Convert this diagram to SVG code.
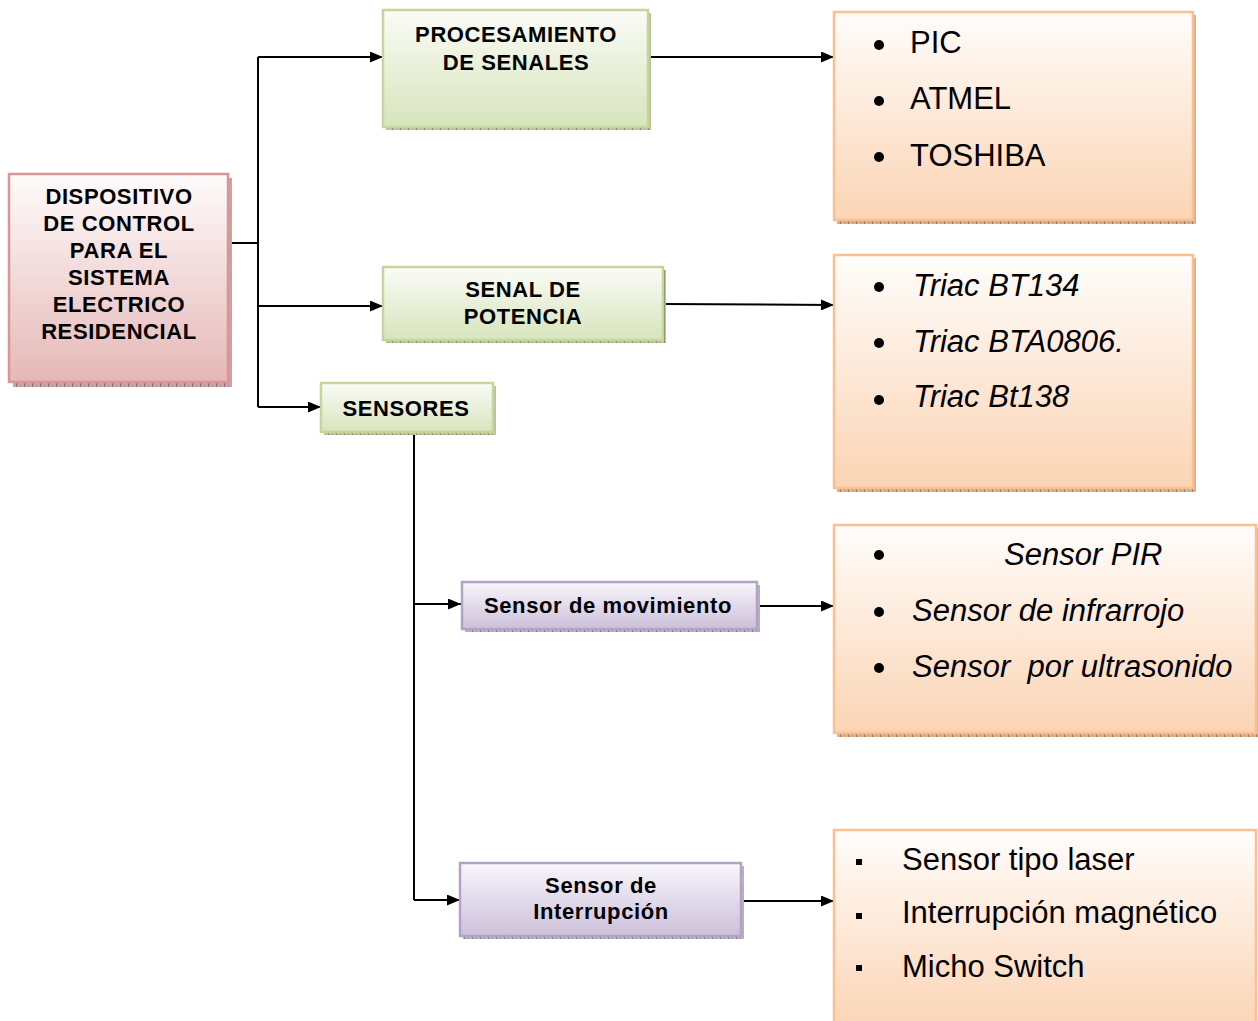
<svg xmlns="http://www.w3.org/2000/svg" width="1258" height="1021" viewBox="0 0 1258 1021">
  <style>
    .lbl { font-family: "Liberation Sans", Arial, sans-serif; font-weight: bold; font-size: 22px; letter-spacing: 0.6px; fill: #000; text-anchor: middle; }
    .item { font-family: "Liberation Sans", Arial, sans-serif; font-size: 31px; fill: #000; white-space: pre; }
    .it { font-style: italic; }
    .wire { fill: none; stroke: #000; stroke-width: 2; }
    .arrow { fill: none; stroke: #000; stroke-width: 2; marker-end: url(#head); }
    .red { fill: url(#gRed); stroke: #d99694; stroke-width: 2.5; }
    .green { fill: url(#gGreen); stroke: #c3d69b; stroke-width: 2.5; }
    .violet { fill: url(#gViolet); stroke: #b3a2c7; stroke-width: 2.5; }
    .orange { fill: url(#gOrange); stroke: #fac08f; stroke-width: 2.5; }
  </style>
  <defs>
    <marker id="head" viewBox="0 0 13 11" refX="13" refY="5.5" markerWidth="13" markerHeight="11" markerUnits="userSpaceOnUse" orient="auto">
      <path d="M0,0 L13,5.5 L0,11 Z" fill="#000"/>
    </marker>
    <linearGradient id="gRed" x1="0" y1="0" x2="0" y2="1">
      <stop offset="0" stop-color="#fffbfb"/>
      <stop offset="1" stop-color="#e5b8b7"/>
    </linearGradient>
    <linearGradient id="gGreen" x1="0" y1="0" x2="0" y2="1">
      <stop offset="0" stop-color="#fbfcf7"/>
      <stop offset="1" stop-color="#d7e4bc"/>
    </linearGradient>
    <linearGradient id="gViolet" x1="0" y1="0" x2="0" y2="1">
      <stop offset="0" stop-color="#f8f6fb"/>
      <stop offset="1" stop-color="#ccc0da"/>
    </linearGradient>
    <linearGradient id="gOrange" x1="0" y1="0" x2="0" y2="1">
      <stop offset="0" stop-color="#fffdfb"/>
      <stop offset="1" stop-color="#fbd4b4"/>
    </linearGradient>
    <!-- textured drop shadows -->
    <pattern id="sRed" width="8" height="4" patternUnits="userSpaceOnUse">
      <rect width="8" height="4" fill="#c9a3a2"/>
      <rect width="1" height="4" fill="#8e6c6b"/>
      <rect x="4" y="2" width="1" height="1" fill="#a58584"/>
    </pattern>
    <pattern id="sGreen" width="8" height="4" patternUnits="userSpaceOnUse">
      <rect width="8" height="4" fill="#b9c39f"/>
      <rect width="1" height="4" fill="#7f8a64"/>
      <rect x="4" y="2" width="1" height="1" fill="#98a27d"/>
    </pattern>
    <pattern id="sViolet" width="8" height="4" patternUnits="userSpaceOnUse">
      <rect width="8" height="4" fill="#b8b0c2"/>
      <rect width="1" height="4" fill="#7d7590"/>
      <rect x="4" y="2" width="1" height="1" fill="#9a92a8"/>
    </pattern>
    <pattern id="sOrange" width="8" height="4" patternUnits="userSpaceOnUse">
      <rect width="8" height="4" fill="#d6b08f"/>
      <rect width="1" height="4" fill="#9c7a5c"/>
      <rect x="4" y="2" width="1" height="1" fill="#b89474"/>
    </pattern>
  </defs>

  <rect width="1258" height="1021" fill="#fff"/>

  <!-- connectors -->
  <g id="connectors">
    <path class="wire" d="M228,243 H258"/>
    <path class="wire" d="M258,57 V407"/>
    <path class="arrow" d="M258,57 H383"/>
    <path class="arrow" d="M258,306 H383"/>
    <path class="arrow" d="M258,407 H321"/>
    <path class="arrow" d="M648,57 H834"/>
    <path class="arrow" d="M663,304 L834,305"/>
    <path class="wire" d="M414,432 V900"/>
    <path class="arrow" d="M414,604 H461"/>
    <path class="arrow" d="M414,900 H460"/>
    <path class="arrow" d="M757,606 H834"/>
    <path class="arrow" d="M741,901 H834"/>
  </g>

  <!-- root node -->
  <g id="dispositivo">
    <rect x="13" y="178" width="219" height="209" fill="url(#sRed)"/>
    <rect class="red" x="9" y="174" width="219" height="208"/>
    <text class="lbl" x="119" y="204">DISPOSITIVO</text>
    <text class="lbl" x="119" y="231">DE CONTROL</text>
    <text class="lbl" x="119" y="258">PARA EL</text>
    <text class="lbl" x="119" y="285">SISTEMA</text>
    <text class="lbl" x="119" y="312">ELECTRICO</text>
    <text class="lbl" x="119" y="339">RESIDENCIAL</text>
  </g>

  <g id="procesamiento">
    <rect x="386" y="13" width="265" height="117" fill="url(#sGreen)"/>
    <rect class="green" x="383" y="10" width="265" height="117"/>
    <text class="lbl" x="516" y="42">PROCESAMIENTO</text>
    <text class="lbl" x="516" y="70">DE SENALES</text>
  </g>

  <g id="potencia">
    <rect x="386" y="270" width="280" height="73" fill="url(#sGreen)"/>
    <rect class="green" x="383" y="267" width="280" height="73"/>
    <text class="lbl" x="523" y="297">SENAL DE</text>
    <text class="lbl" x="523" y="324">POTENCIA</text>
  </g>

  <g id="sensores">
    <rect x="324" y="386" width="172" height="49" fill="url(#sGreen)"/>
    <rect class="green" x="321" y="383" width="172" height="49"/>
    <text class="lbl" x="406" y="416">SENSORES</text>
  </g>

  <g id="movimiento">
    <rect x="465" y="585" width="295" height="47" fill="url(#sViolet)"/>
    <rect class="violet" x="462" y="582" width="295" height="47"/>
    <text class="lbl" x="608" y="613">Sensor de movimiento</text>
  </g>

  <g id="interrupcion">
    <rect x="463" y="866" width="281" height="73" fill="url(#sViolet)"/>
    <rect class="violet" x="460" y="863" width="281" height="73"/>
    <text class="lbl" x="601" y="893">Sensor de</text>
    <text class="lbl" x="601" y="919">Interrupción</text>
  </g>

  <g id="microcontroladores">
    <rect x="837" y="15" width="359" height="209" fill="url(#sOrange)"/>
    <rect class="orange" x="834" y="12" width="359" height="208"/>
    <circle cx="879" cy="45" r="5"/>
    <circle cx="879" cy="101" r="5"/>
    <circle cx="879" cy="157" r="5"/>
    <text class="item" x="910" y="53">PIC</text>
    <text class="item" x="910" y="109">ATMEL</text>
    <text class="item" x="910" y="166">TOSHIBA</text>
  </g>

  <g id="triacs">
    <rect x="837" y="258" width="359" height="234" fill="url(#sOrange)"/>
    <rect class="orange" x="834" y="255" width="359" height="233"/>
    <circle cx="879" cy="287" r="5"/>
    <circle cx="879" cy="343" r="5"/>
    <circle cx="879" cy="400" r="5"/>
    <text class="item it" x="913" y="296">Triac BT134</text>
    <text class="item it" x="913" y="352">Triac BTA0806.</text>
    <text class="item it" x="913" y="407">Triac Bt138</text>
  </g>

  <g id="sensores-movimiento">
    <rect x="837" y="528" width="424" height="209" fill="url(#sOrange)"/>
    <rect class="orange" x="834" y="525" width="422" height="208"/>
    <circle cx="879" cy="555" r="5"/>
    <circle cx="879" cy="612" r="5"/>
    <circle cx="879" cy="668" r="5"/>
    <text class="item it" x="1004" y="565">Sensor PIR</text>
    <text class="item it" x="912" y="621">Sensor de infrarrojo</text>
    <text class="item it" x="912" y="677">Sensor  por ultrasonido</text>
  </g>

  <g id="sensores-interrupcion">
    <rect class="orange" x="834" y="830" width="422" height="200"/>
    <rect x="856" y="859" width="6" height="6"/>
    <rect x="856" y="913" width="6" height="6"/>
    <rect x="856" y="965" width="6" height="6"/>
    <text class="item" x="902" y="870">Sensor tipo laser</text>
    <text class="item" x="902" y="923">Interrupción magnético</text>
    <text class="item" x="902" y="977">Micho Switch</text>
  </g>
</svg>
